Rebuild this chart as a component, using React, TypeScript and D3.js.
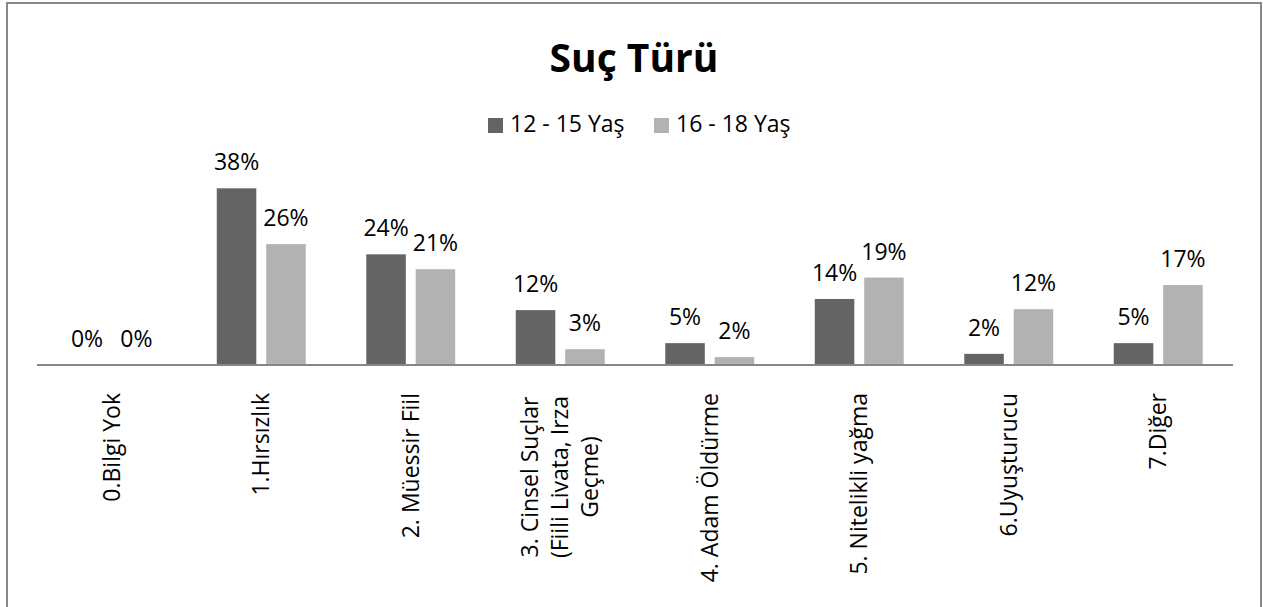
import React from "react";
import * as d3 from "d3";

const categories = [
  "0.Bilgi Yok",
  "1.Hırsızlık",
  "2. Müessir Fiil",
  "3. Cinsel Suçlar (Fiili Livata, Irza Geçme)",
  "4. Adam Öldürme",
  "5. Nitelikli yağma",
  "6.Uyuşturucu",
  "7.Diğer",
];
// label lines as shown under the axis
const categoryLines = [
  ["0.Bilgi Yok"],
  ["1.Hırsızlık"],
  ["2. Müessir Fiil"],
  ["3. Cinsel Suçlar", "(Fiili Livata, Irza", "Geçme)"],
  ["4. Adam Öldürme"],
  ["5. Nitelikli yağma"],
  ["6.Uyuşturucu"],
  ["7.Diğer"],
];
const seriesNames = ["12 - 15 Yaş", "16 - 18 Yaş"];
const age12to15 = [0, 38, 23.8, 11.8, 4.7, 14.2, 2.4, 4.7];
const age16to18 = [0, 26, 20.6, 3.4, 1.7, 18.8, 12.0, 17.2];
const seriesColors = ["#646464", "#b2b2b2"];

const W = 1263;
const H = 607;
const font = "'Open Sans', sans-serif";

export default function App() {
  const baseY = 365;
  const x0 = d3
    .scaleBand()
    .domain(categories)
    .range([37, 1233])
    .paddingInner(0.405)
    .paddingOuter(0.2025);
  const x1 = d3
    .scaleBand()
    .domain(seriesNames)
    .range([0, x0.bandwidth()])
    .paddingInner(0.2);
  const y = d3.scaleLinear().domain([0, 40]).range([baseY, 179]);
  const fmt = (v: number) => d3.format(".0f")(v) + "%";
  const values = [age12to15, age16to18];

  return (
    <svg
      width={W}
      height={H}
      style={{ position: "absolute", left: 0, top: 0, background: "#fff" }}
    >
      <rect x={7} y={3} width={1254} height={700} fill="#fff" stroke="#878787" strokeWidth={2} />
      <text
        x={634}
        y={72}
        textAnchor="middle"
        fontFamily={font}
        fontWeight="bold"
        fontSize={39}
        fill="#000"
      >
        Suç Türü
      </text>

      {/* legend */}
      {seriesNames.map((s, i) => {
        const lx = i === 0 ? 488 : 654;
        return (
          <g key={s}>
            <rect x={lx} y={118} width={15} height={15} fill={seriesColors[i]} />
            <text x={lx + 22} y={132} fontFamily={font} fontSize={23} fill="#000">
              {s}
            </text>
          </g>
        );
      })}

      {/* bars */}
      {categories.map((c, ci) => (
        <g key={c} transform={`translate(${x0(c)},0)`}>
          {seriesNames.map((s, si) => {
            const v = values[si][ci];
            const bx = x1(s)!;
            return (
              <g key={s}>
                <rect
                  x={bx}
                  y={y(v)}
                  width={x1.bandwidth()}
                  height={baseY - y(v)}
                  fill={seriesColors[si]}
                />
                <text
                  x={bx + x1.bandwidth() / 2}
                  y={y(v) - 18}
                  textAnchor="middle"
                  fontFamily={font}
                  fontSize={23}
                  fill="#000"
                >
                  {fmt(v)}
                </text>
              </g>
            );
          })}
        </g>
      ))}

      {/* axis line */}
      <line x1={37} x2={1233} y1={baseY} y2={baseY} stroke="#868686" strokeWidth={2} />

      {/* category labels */}
      {categories.map((c, ci) => {
        const cx = x0(c)! + x0.bandwidth() / 2;
        const lines = categoryLines[ci];
        const lh = 30;
        const top = 393;
        return (
          <text
            key={c}
            transform={`translate(${cx},${top}) rotate(-90)`}
            fontFamily={font}
            fontSize={23}
            fill="#000"
            textAnchor={lines.length > 1 ? "middle" : "end"}
          >
            {lines.map((l, li) => (
              <tspan
                key={li}
                x={lines.length > 1 ? -84 : 0}
                y={(li - (lines.length - 1) / 2) * lh}
                dy="0.35em"
              >
                {l}
              </tspan>
            ))}
          </text>
        );
      })}
    </svg>
  );
}
